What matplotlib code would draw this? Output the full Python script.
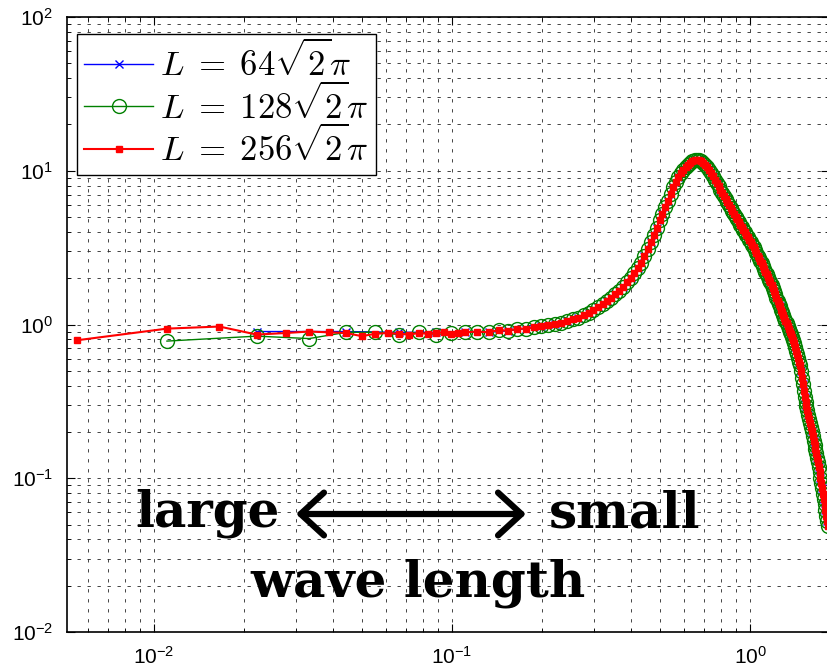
import numpy as np
import matplotlib
matplotlib.use('Agg')
import matplotlib.pyplot as plt
from matplotlib.patches import ArrowStyle

plt.rcParams['font.family'] = 'Liberation Sans'

# wave number spacing 2*pi/L for the three box sizes
dk64 = 2 * np.pi / (64 * np.sqrt(2) * np.pi)
dk128 = 2 * np.pi / (128 * np.sqrt(2) * np.pi)
dk256 = 2 * np.pi / (256 * np.sqrt(2) * np.pi)

# low-k part, read separately for each box size
blue_low = [0.90, 0.90, 0.89, 0.89]
green_low = [0.78, 0.84, 0.81, 0.89, 0.89, 0.86, 0.89, 0.86, 0.88]
red_low = [0.79, 0.94, 0.97, 0.86, 0.88, 0.90, 0.89, 0.88, 0.84, 0.87,
           0.88, 0.87, 0.86, 0.88, 0.87, 0.88, 0.89, 0.87, 0.88]

# k >= 0.11 : the three curves lie on top of each other (read on the dk128 grid)
band_y = [0.89, 0.90, 0.89, 0.92, 0.91, 0.94, 0.94, 0.96, 0.98, 0.99,
          1.01, 1.03, 1.05, 1.08, 1.11, 1.15, 1.19, 1.24, 1.29, 1.35,
          1.42, 1.49, 1.57, 1.66, 1.76, 1.88, 2.01, 2.15, 2.32, 2.52,
          2.80, 3.10, 3.42, 3.80, 4.25, 4.75, 5.25, 5.80, 6.40, 7.10,
          7.85, 8.50, 9.10, 9.60, 10.1, 10.5, 10.9, 11.2, 11.5, 11.7,
          11.8, 11.7, 11.5, 11.2, 10.9, 10.6, 10.1, 9.6, 9.2, 8.7,
          8.3, 7.9, 7.5, 7.2, 6.85, 6.55, 6.25, 5.98, 5.72, 5.48,
          5.25, 5.02, 4.82, 4.64, 4.46, 4.30, 4.14, 3.98, 3.84, 3.70,
          3.57, 3.44, 3.30, 3.18, 3.05, 2.93, 2.81, 2.70, 2.60, 2.50,
          2.40, 2.30, 2.21, 2.12, 2.04, 1.96, 1.88, 1.80, 1.73, 1.66,
          1.57, 1.49, 1.42, 1.36, 1.31, 1.25, 1.20, 1.15, 1.10, 1.06,
          1.02, 0.975, 0.935, 0.90, 0.87, 0.83, 0.795, 0.755, 0.715, 0.675,
          0.64, 0.605, 0.57, 0.545, 0.495, 0.45, 0.41, 0.372, 0.34, 0.314,
          0.294, 0.276, 0.259, 0.243, 0.229, 0.215, 0.202, 0.189, 0.176, 0.165,
          0.154, 0.145, 0.135, 0.127, 0.119, 0.110, 0.101, 0.093, 0.086, 0.079,
          0.073, 0.068, 0.062, 0.057, 0.053, 0.049]

k_blue = dk64 * np.arange(1, 83)
y_blue = blue_low + band_y[0::2]
k_green = dk128 * np.arange(1, 166)
y_green = green_low + band_y
k_red = np.concatenate([dk256 * np.arange(1, 20), dk128 * np.arange(10, 166)])
y_red = red_low + band_y

labels = [r'$L\;=\;64\sqrt{2}\pi$', r'$L\;=\;128\sqrt{2}\pi$', r'$L\;=\;256\sqrt{2}\pi$']

fig = plt.figure(figsize=(8.27, 6.70), dpi=100)
ax = fig.add_axes([67/827, 38/670, 762/827, 615/670])

ax.loglog(k_blue, y_blue, color='b', marker='x', ms=6, mew=1, lw=1, label=labels[0])
ax.loglog(k_green, y_green, color=(0, 0.5, 0), marker='o', mfc='none', ms=10, mew=1,
          lw=1, label=labels[1])
ax.loglog(k_red, y_red, color='r', marker='s', ms=4, lw=1.5, label=labels[2])

ax.set_xlim(10**-2.292, 10**0.265)
ax.set_ylim(1e-2, 1e2)

ax.grid(True, which='both', color='0.15', linestyle=(0, (4, 8)), linewidth=0.6)
ax.tick_params(which='both', direction='in', top=True, right=True, labelsize=15)
ax.tick_params(which='major', length=6, pad=10)
ax.tick_params(which='minor', length=3)
for s in ax.spines.values():
    s.set_linewidth(1.2)

leg = ax.legend(loc='upper left', bbox_to_anchor=(10/762, 1 - 17/615), borderaxespad=0,
                prop=dict(size=25, math_fontfamily='cm'), fancybox=False,
                edgecolor='k', framealpha=1, handlelength=2.0, handletextpad=0.2,
                labelspacing=0.0, borderpad=0.2)
leg.get_frame().set_linewidth(1.0)

# annotation below the curve
txt = dict(family='DejaVu Serif', weight='bold', size=36, va='baseline')
fig.text(135/827, 1 - 527/670, 'large', ha='left', **txt)
fig.text(549/827, 1 - 527/670, 'small', ha='left', **txt)
fig.text(418/827, 1 - 596/670, 'wave length', ha='center', **txt)
ax.annotate('', xy=(526/827, 1 - 514/670), xytext=(296/827, 1 - 514/670),
            xycoords='figure fraction', textcoords='figure fraction',
            arrowprops=dict(arrowstyle=ArrowStyle('<->', head_length=0.6, head_width=0.55),
                            lw=4.5, color='k', mutation_scale=28,
                            shrinkA=0, shrinkB=0))

fig.savefig('out.png', dpi=100)
